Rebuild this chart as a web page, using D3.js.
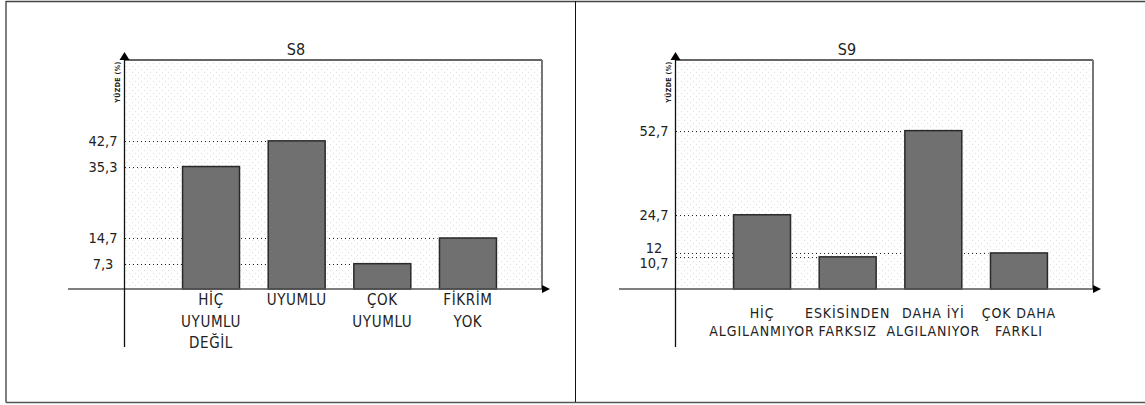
<!DOCTYPE html>
<html><head><meta charset="utf-8">
<script src="https://cdn.jsdelivr.net/npm/d3@7/dist/d3.min.js"></script>
<style>
html,body{margin:0;padding:0;background:#fff;}
svg text{font-family:"DejaVu Sans","Liberation Sans",sans-serif;font-stretch:condensed;fill:#222;}
</style></head><body>
<svg id="c" width="1145" height="405"></svg>
<script>
// ---- data ----
const s8Title = "S8";
const s8Categories = ["HİÇ\nUYUMLU\nDEĞİL", "UYUMLU", "ÇOK\nUYUMLU", "FİKRİM\nYOK"];
const s8Values = [35.3, 42.7, 7.3, 14.7];
const s8TickLabels = ["35,3", "42,7", "7,3", "14,7"];

const s9Title = "S9";
const s9Categories = ["HİÇ\nALGILANMIYOR", "ESKİSİNDEN\nFARKSIZ", "DAHA İYİ\nALGILANIYOR", "ÇOK DAHA\nFARKLI"];
const s9Values = [24.7, 10.7, 52.7, 12];
const s9TickLabels = ["24,7", "10,7", "52,7", "12"];

const yAxisTitle = "YÜZDE (%)";

const svg = d3.select("#c");
const defs = svg.append("defs");
const pat = defs.append("pattern").attr("id","dots").attr("patternUnits","userSpaceOnUse")
  .attr("width",6).attr("height",6);
pat.append("rect").attr("width",6).attr("height",6).attr("fill","#fff");
pat.append("rect").attr("x",0).attr("y",0).attr("width",1).attr("height",1).attr("fill","#dedede");
pat.append("rect").attr("x",3).attr("y",3).attr("width",1).attr("height",1).attr("fill","#dedede");

// outer frame
svg.append("line").attr("x1",6).attr("x2",6).attr("y1",1).attr("y2",402.5).attr("stroke","#555").attr("stroke-width",1.5);
svg.append("line").attr("x1",6).attr("x2",1145).attr("y1",1.5).attr("y2",1.5).attr("stroke","#444").attr("stroke-width",1.5);
svg.append("line").attr("x1",6).attr("x2",1145).attr("y1",402.5).attr("y2",402.5).attr("stroke","#555").attr("stroke-width",1.5);
svg.append("line").attr("x1",575.5).attr("x2",575.5).attr("y1",1).attr("y2",402).attr("stroke","#111").attr("stroke-width",1);

function drawChart(cfg){
  const ax = cfg.axisX, base = 289, top = 60, right = ax + 418;
  const g = svg.append("g");
  const x = d3.scaleBand().domain(cfg.categories).range([ax+44, ax+387]).paddingInner(0.335).paddingOuter(0.17);
  const y = d3.scaleLinear().domain([0, cfg.yMax]).range([base, top]);

  // dotted plot background
  g.append("rect").attr("x",ax).attr("y",top).attr("width",right-ax).attr("height",base-top).attr("fill","url(#dots)");
  // frame top and right
  g.append("line").attr("x1",ax).attr("x2",right).attr("y1",top).attr("y2",top).attr("stroke","#666").attr("stroke-width",2);
  g.append("line").attr("x1",right).attr("x2",right).attr("y1",top).attr("y2",base).attr("stroke","#777").attr("stroke-width",2);

  const data = cfg.categories.map((c,i)=>({c, v:cfg.values[i], label:cfg.ticks[i]}));

  // dotted reference lines
  g.selectAll(".ref").data(data).join("line")
    .attr("x1",ax+1).attr("x2",d=>x(d.c)-2)
    .attr("y1",d=>Math.round(y(d.v))+0.5).attr("y2",d=>Math.round(y(d.v))+0.5)
    .attr("stroke","#222").attr("stroke-width",1).attr("stroke-dasharray","1,3");

  // bars
  g.selectAll(".bar").data(data).join("rect")
    .attr("x",d=>x(d.c)).attr("width",x.bandwidth())
    .attr("y",d=>y(d.v)).attr("height",d=>base-y(d.v))
    .attr("fill","#707070").attr("stroke","#2a2a2a").attr("stroke-width",1.5);

  // axes
  g.append("line").attr("x1",ax-56).attr("x2",right+2).attr("y1",base).attr("y2",base).attr("stroke","#555").attr("stroke-width",1.5);
  g.append("path").attr("d",`M${right},${base-4}L${right+8},${base}L${right},${base+4}Z`).attr("fill","#000");
  g.append("line").attr("x1",ax+0.5).attr("x2",ax+0.5).attr("y1",54).attr("y2",347).attr("stroke","#111").attr("stroke-width",1.3);
  g.append("path").attr("d",`M${ax-4.5},${60}L${ax+0.5},${52}L${ax+5.5},${60}Z`).attr("fill","#000");

  // value labels on the axis, relaxed so they do not collide
  const lab = data.map(d=>({label:d.label, ly:y(d.v)})).sort((a,b)=>a.ly-b.ly);
  const minGap = 15;
  for (let it=0; it<20; it++){
    for (let i=1;i<lab.length;i++){
      const gap = lab[i].ly - lab[i-1].ly;
      if (gap < minGap){ const s=(minGap-gap)/2; lab[i].ly+=s; lab[i-1].ly-=s; }
    }
  }
  g.selectAll(".tl").data(lab).join("text")
    .attr("x",ax-21).attr("y",d=>d.ly).attr("dy","0.36em")
    .attr("text-anchor","middle").attr("font-size",14.5).text(d=>d.label);

  // title
  g.append("text").attr("x",ax+172).attr("y",55).attr("text-anchor","middle").attr("font-size",16).text(cfg.title);

  // y axis title
  g.append("text").attr("transform",`translate(${ax-4},82) rotate(-90)`).attr("text-anchor","middle")
    .attr("font-size",7).attr("font-weight","bold").attr("letter-spacing",0.4).attr("fill","#2b3550").text(yAxisTitle);

  // category labels
  data.forEach(d=>{
    const lines = d.c.split("\n");
    const t = g.append("text").attr("text-anchor","middle").attr("font-size",cfg.catSize)
      .attr("letter-spacing",cfg.catSpacing);
    lines.forEach((l,i)=>{
      t.append("tspan").attr("x",x(d.c)+x.bandwidth()/2).attr("y",cfg.catY + i*cfg.catLH).text(l);
    });
  });
}

drawChart({axisX:124, title:s8Title, categories:s8Categories, values:s8Values, ticks:s8TickLabels, yMax:66,
  catSize:15, catSpacing:0.6, catY:305, catLH:21.5});
drawChart({axisX:675, title:s9Title, categories:s9Categories, values:s9Values, ticks:s9TickLabels, yMax:76.2,
  catSize:14, catSpacing:0.9, catY:318, catLH:18});
</script>
</body></html>
